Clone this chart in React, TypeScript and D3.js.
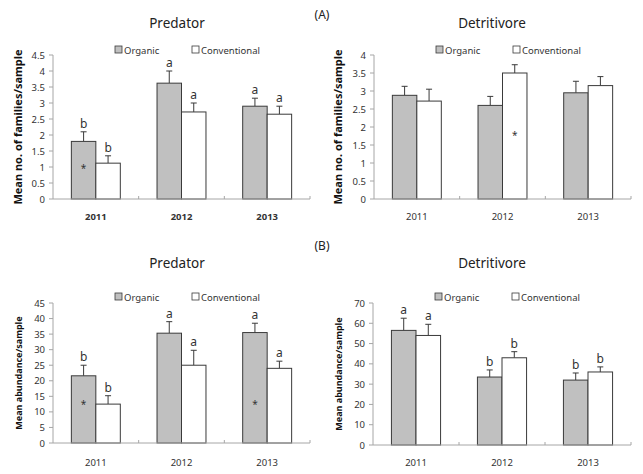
import React from 'react';
import * as d3 from 'd3';

const years = ['2011', '2012', '2013'];
const seriesNames = ['Organic', 'Conventional'];

// Panel A: mean no. of families/sample
const predFamOrg = [1.8, 3.62, 2.9];
const predFamOrgErr = [0.3, 0.38, 0.25];
const predFamConv = [1.12, 2.72, 2.65];
const predFamConvErr = [0.23, 0.28, 0.25];
const detFamOrg = [2.88, 2.6, 2.95];
const detFamOrgErr = [0.25, 0.25, 0.32];
const detFamConv = [2.72, 3.5, 3.15];
const detFamConvErr = [0.33, 0.23, 0.25];

// Panel B: mean abundance/sample
const predAbOrg = [21.6, 35.3, 35.5];
const predAbOrgErr = [3.4, 3.7, 3.0];
const predAbConv = [12.5, 25, 24];
const predAbConvErr = [2.7, 4.8, 2.3];
const detAbOrg = [56.5, 33.5, 32];
const detAbOrgErr = [6, 3.5, 3.5];
const detAbConv = [54, 43, 36];
const detAbConvErr = [5.5, 3, 2.5];

// significance letters
const predFamOrgLet = ['b', 'a', 'a'];
const predFamConvLet = ['b', 'a', 'a'];
const predAbOrgLet = ['b', 'a', 'a'];
const predAbConvLet = ['b', 'a', 'a'];
const detAbOrgLet = ['a', 'b', 'b'];
const detAbConvLet = ['a', 'b', 'b'];
const noLet = ['', '', ''];

// stars: [yearIndex, seriesIndex, value]
const predFamStars = [[0, 0, 1.0]];
const detFamStars = [[1, 1, 1.8]];
const predAbStars = [[0, 0, 13], [2, 0, 13]];
const detAbStars: number[][] = [];

const predFamTicks = d3.range(0, 4.51, 0.5);
const detFamTicks = d3.range(0, 4.01, 0.5);
const predAbTicks = d3.range(0, 46, 5);
const detAbTicks = d3.range(0, 71, 10);

const FONT = "'Noto Sans', 'DejaVu Sans', sans-serif";
const AXIS = '#a6a6a6';
const BAR_STROKE = '#3a3a3a';
const ORG_FILL = '#c0c0c0';

type PanelProps = {
  title: string; titleX: number;
  x0: number; x1: number; yTop: number; yBottom: number;
  max: number; ticks: number[];
  org: number[]; orgErr: number[]; conv: number[]; convErr: number[];
  orgLet: string[]; convLet: string[];
  stars: number[][];
  yLabel: string; yLabelSize: number; yLabelX: number;
  titleY: number; legendY: number; yearY: number; boldYears: boolean;
};

function Panel(p: PanelProps) {
  const y = d3.scaleLinear().domain([0, p.max]).range([p.yBottom, p.yTop]);
  const xb = d3.scaleBand().domain(years).range([p.x0, p.x1]).paddingInner(0).paddingOuter(0);
  const xs = d3.scaleBand().domain(seriesNames).range([0, xb.bandwidth()]).paddingInner(0).paddingOuter(0.75);
  const bw = xs.bandwidth();
  const vals = [p.org, p.conv];
  const errs = [p.orgErr, p.convErr];
  const lets = [p.orgLet, p.convLet];
  const cy = (p.yTop + p.yBottom) / 2;
  return (
    <g fontFamily={FONT}>
      <text x={p.titleX} y={p.titleY} textAnchor="middle" fontSize={13.5} fill="#222">{p.title}</text>
      {/* legend */}
      <g fontSize={9.5} fill="#333">
        <rect x={p.x0 + 62} y={p.legendY - 4} width={7} height={7} fill={ORG_FILL} stroke={BAR_STROKE} strokeWidth={0.8} />
        <text x={p.x0 + 71} y={p.legendY + 3.5}>{seriesNames[0]}</text>
        <rect x={p.x0 + 139} y={p.legendY - 4} width={7} height={7} fill="#fff" stroke={BAR_STROKE} strokeWidth={0.8} />
        <text x={p.x0 + 148} y={p.legendY + 3.5}>{seriesNames[1]}</text>
      </g>
      {/* y axis */}
      <line x1={p.x0} x2={p.x0} y1={p.yTop} y2={p.yBottom} stroke={AXIS} strokeWidth={1} />
      {p.ticks.map((t) => (
        <g key={t}>
          <line x1={p.x0 - 4} x2={p.x0} y1={y(t)} y2={y(t)} stroke={AXIS} />
          <text x={p.x0 - 8} y={y(t) + 3.5} textAnchor="end" fontSize={9.5} fill="#333">{String(t)}</text>
        </g>
      ))}
      {/* bars */}
      {years.map((yr, i) => (
        <g key={yr}>
          {seriesNames.map((s, j) => {
            const bx = (xb(yr) as number) + (xs(s) as number);
            const v = vals[j][i];
            const e = errs[j][i];
            const cx = bx + bw / 2;
            return (
              <g key={s}>
                <line x1={cx} x2={cx} y1={y(v)} y2={y(v + e)} stroke={BAR_STROKE} strokeWidth={1} />
                <line x1={cx - 3} x2={cx + 3} y1={y(v + e)} y2={y(v + e)} stroke={BAR_STROKE} strokeWidth={1} />
                <rect x={bx} y={y(v)} width={bw} height={p.yBottom - y(v)} fill={j === 0 ? ORG_FILL : '#fff'} stroke={BAR_STROKE} strokeWidth={1} />
                {lets[j][i] ? (
                  <text x={cx} y={y(v + e) - 4} textAnchor="middle" fontSize={12} fill="#333">{lets[j][i]}</text>
                ) : null}
              </g>
            );
          })}
        </g>
      ))}
      {p.stars.map((st, k) => {
        const bx = (xb(years[st[0]]) as number) + (xs(seriesNames[st[1]]) as number);
        return (
          <text key={k} x={bx + bw / 2} y={y(st[2]) + 5} textAnchor="middle" fontSize={10} fill="#333">*</text>
        );
      })}
      {/* x axis */}
      <line x1={p.x0} x2={p.x1} y1={p.yBottom} y2={p.yBottom} stroke={AXIS} strokeWidth={1} />
      {[...years.slice(1).map((yr) => xb(yr) as number), p.x1].map((tx, k) => (
        <line key={k} x1={tx} x2={tx} y1={p.yBottom} y2={p.yBottom - 3} stroke={AXIS} />
      ))}
      {years.map((yr) => (
        <text key={yr} x={(xb(yr) as number) + xb.bandwidth() / 2} y={p.yearY} textAnchor="middle" fontSize={9.5} fontWeight={p.boldYears ? 'bold' : 'normal'} fill="#333">{yr}</text>
      ))}
      <text transform={`translate(${p.yLabelX},${cy}) rotate(-90)`} textAnchor="middle" fontSize={p.yLabelSize} fontWeight="bold" fill="#111">{p.yLabel}</text>
    </g>
  );
}

export default function App() {
  return (
    <svg width={643} height={474} style={{ display: 'block', position: 'absolute', left: 0, top: 0, background: '#fff' }}>
      <rect width={643} height={474} fill="#fff" />
      <text x={322} y={19} textAnchor="middle" fontSize={12} fontFamily={FONT} fill="#222">(A)</text>
      <text x={322} y={250} textAnchor="middle" fontSize={12} fontFamily={FONT} fill="#222">(B)</text>
      <Panel title="Predator" titleX={177} x0={53} x1={310} yTop={55} yBottom={199} max={4.5} ticks={predFamTicks}
        org={predFamOrg} orgErr={predFamOrgErr} conv={predFamConv} convErr={predFamConvErr}
        orgLet={predFamOrgLet} convLet={predFamConvLet} stars={predFamStars}
        yLabel="Mean no. of families/sample" yLabelSize={11} yLabelX={22}
        titleY={28} legendY={50} yearY={220} boldYears={true} />
      <Panel title="Detritivore" titleX={492} x0={374} x1={631} yTop={55} yBottom={199} max={4} ticks={detFamTicks}
        org={detFamOrg} orgErr={detFamOrgErr} conv={detFamConv} convErr={detFamConvErr}
        orgLet={noLet} convLet={noLet} stars={detFamStars}
        yLabel="Mean no. of families/sample" yLabelSize={11} yLabelX={342}
        titleY={28} legendY={50} yearY={220} boldYears={false} />
      <Panel title="Predator" titleX={177} x0={53} x1={310} yTop={303} yBottom={443} max={45} ticks={predAbTicks}
        org={predAbOrg} orgErr={predAbOrgErr} conv={predAbConv} convErr={predAbConvErr}
        orgLet={predAbOrgLet} convLet={predAbConvLet} stars={predAbStars}
        yLabel="Mean abundance/sample" yLabelSize={9} yLabelX={22}
        titleY={268} legendY={297} yearY={466} boldYears={false} />
      <Panel title="Detritivore" titleX={492} x0={373} x1={631} yTop={303} yBottom={445} max={70} ticks={detAbTicks}
        org={detAbOrg} orgErr={detAbOrgErr} conv={detAbConv} convErr={detAbConvErr}
        orgLet={detAbOrgLet} convLet={detAbConvLet} stars={detAbStars}
        yLabel="Mean abundance/sample" yLabelSize={9} yLabelX={342}
        titleY={268} legendY={297} yearY={466} boldYears={false} />
    </svg>
  );
}
